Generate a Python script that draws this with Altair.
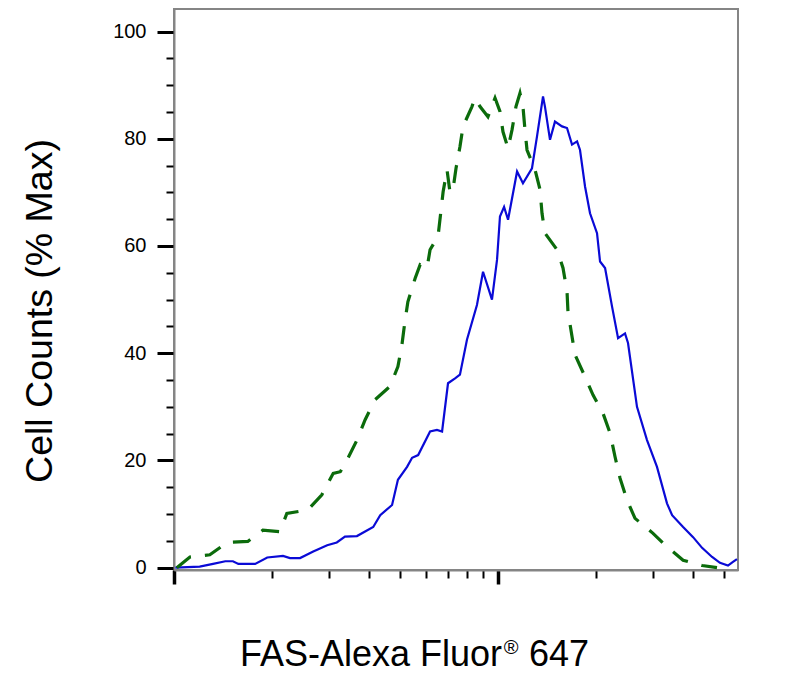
import altair as alt
import pandas as pd

# FAS-Alexa Fluor 647 (blue, solid) vs control (green, dashed)
blue_x = [101, 120, 132, 144, 152, 158, 178, 194, 217, 228,
          245, 269, 297, 318, 337, 367, 412, 433, 471, 491,
          524, 543, 567, 617, 648, 672, 701, 737, 763, 802,
          861, 899, 958, 993, 1014, 1044, 1074, 1145, 1194, 1273,
          1319, 1377, 1396, 1447, 1499, 1576, 1633, 1692, 1754, 1791,
          1856, 1923, 2021, 2065, 2140, 2249, 2347, 2466, 2519, 2685,
          2883, 3095, 3323, 3446, 3726, 4000, 4264, 4578, 4842, 5126,
          5311, 5464]
blue_y = [0, 0.2, 0.7, 1.2, 1.2, 0.7, 0.7, 1.9, 2.2, 1.8,
          1.8, 3.0, 4.2, 4.7, 5.8, 5.9, 7.6, 9.8, 11.7, 16.4,
          18.8, 20.5, 21, 25.4, 25.7, 25.4, 34.4, 35.3, 36, 42.5,
          49, 55.2, 50, 57.4, 65.5, 67.3, 64.9, 73.9, 71.7, 74.5,
          80.4, 87.9, 86, 79.8, 83.2, 82.3, 82, 78.9, 79.5, 77.9,
          71.1, 66.1, 62.4, 57.1, 55.9, 48.7, 42.8, 43.7, 41.9, 30,
          23.8, 18.8, 12, 9.8, 7.6, 5.7, 3.7, 2.0, 0.9, 0.4,
          1.1, 1.6]

green_x = [102, 112, 129, 146, 169, 188, 212, 223, 259, 286,
           310, 326, 342, 367, 389, 417, 464, 491, 505, 516,
           527, 555, 575, 604, 617, 653, 677, 696, 711, 726,
           742, 763, 780, 831, 849, 880, 931, 979, 1014, 1036,
           1074, 1105, 1136, 1169, 1194, 1211, 1229, 1301, 1348, 1367,
           1396, 1521, 1587, 1633, 1644, 1692, 1729, 1856, 1965, 2109,
           2217, 2297, 2380, 2501, 2648, 3009, 3323, 3726, 4264, 4741]
green_y = [0, 2, 2.4, 4.7, 4.9, 7, 6.7, 10.1, 10.8, 13.6,
           17.6, 17.9, 20.1, 23.8, 27.6, 31.3, 33.8, 37.5, 41.5, 45.9,
           49.6, 54, 56.5, 55.9, 59.3, 61.8, 70.1, 74.2, 70, 70.5,
           74.5, 78.5, 82.3, 86, 87.6, 86, 84.1, 87.6, 85.1, 81.3,
           78.2, 81.7, 86, 88.5, 86, 81.7, 77.9, 74.2, 70.5, 66.1,
           62.4, 59.3, 55.9, 51.5, 47.8, 43.1, 39.7, 35.6, 32.2, 28.8,
           25.1, 20.7, 16.7, 12.6, 9.2, 6.4, 3.9, 1.4, 0.4, 0]

x_ticks = [100, 200, 300, 400, 500, 600, 700, 800, 900, 1000, 2000, 3000, 4000, 5000]
y_ticks = [0, 5, 10, 15, 20, 25, 30, 35, 40, 45, 50, 55, 60, 65, 70, 75, 80, 85, 90, 95, 100]

y_title = "Cell Counts (% Max)"
x_title_main = "FAS-Alexa Fluor"
x_title_reg = "®"
x_title_num = "647"

FONT = "Liberation Sans"
FRAME = "#858585"

x_scale = alt.Scale(type="log", domain=[100, 5504], nice=False)
y_scale = alt.Scale(domain=[-0.43, 104.2], nice=False, zero=False)

x_major = "datum.value === 100 || datum.value === 1000"
y_major = "datum.value % 20 === 0"

x_axis = alt.Axis(values=x_ticks, labels=False, title=None, grid=False,
                  domainColor=FRAME, domainWidth=2, tickColor="black",
                  tickSize={"condition": {"test": x_major, "value": 14}, "value": 8},
                  tickWidth={"condition": {"test": x_major, "value": 3.5}, "value": 2})
y_axis = alt.Axis(values=y_ticks, title=None, grid=False,
                  domainColor=FRAME, domainWidth=2, tickColor="black",
                  tickSize={"condition": {"test": y_major, "value": 17}, "value": 8},
                  tickWidth={"condition": {"test": y_major, "value": 3}, "value": 2},
                  labelExpr="datum.value % 20 === 0 ? datum.label : ''",
                  labelFont=FONT, labelFontSize=20, labelColor="black", labelPadding=11)

x_enc = alt.X("x:Q", scale=x_scale, axis=x_axis)
y_enc = alt.Y("y:Q", scale=y_scale, axis=y_axis)

blue_df = pd.DataFrame({"x": blue_x, "y": blue_y})
green_df = pd.DataFrame({"x": green_x, "y": green_y})

blue = alt.Chart(blue_df).mark_line(color="#0a0ad6", strokeWidth=2.2).encode(x=x_enc, y=y_enc, order="x:Q")
green = alt.Chart(green_df).mark_line(color="#0b6b0b", strokeWidth=3.2, strokeDash=[18, 14]).encode(
    x=x_enc, y=y_enc, order="x:Q")

def label(text, x, y, size, angle=0, align="center", baseline="alphabetic"):
    df = pd.DataFrame({"t": [text]})
    return alt.Chart(df).mark_text(font=FONT, fontSize=size, angle=angle, align=align,
                                   baseline=baseline, color="black").encode(
        text="t:N", x=alt.value(x), y=alt.value(y))

t_y = label(y_title, -122, 302, 37.5, angle=270)
t_x1 = label(x_title_main, 197, 657, 36)
t_x2 = label(x_title_reg, 337, 645, 20)
t_x3 = label(x_title_num, 385, 657, 36)

chart = alt.layer(blue, green, t_y, t_x1, t_x2, t_x3).properties(
    width=564, height=561,
    autosize=alt.AutoSizeParams(type="none"),
    padding={"left": 166, "top": 1, "right": 20, "bottom": 104},
).configure_view(stroke=FRAME, strokeWidth=2)

chart.save("out.html", embed_options={"renderer": "svg", "actions": False})
